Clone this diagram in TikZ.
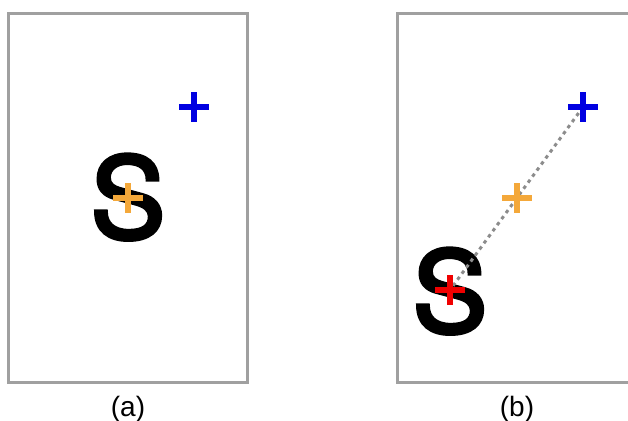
\documentclass[tikz,border=0pt]{standalone}
\usepackage{fontspec}
\setmainfont{Liberation Sans}
\newfontfamily\glyphfont[FakeBold=3.5]{TeX Gyre Heros}
\definecolor{frame}{RGB}{160,160,160}
\definecolor{tgtblue}{RGB}{0,0,225}
\definecolor{ctrorange}{RGB}{244,168,58}
\definecolor{srcred}{RGB}{240,0,0}
\begin{document}
\begin{tikzpicture}[
  x=1pt, y=1pt,
  panel/.style={draw=frame, line width=3pt},
  letter/.style={anchor=base, inner sep=0pt, font=\fontsize{112}{112}\glyphfont},
  caption/.style={anchor=base, inner sep=0pt, font=\fontsize{28}{28}\selectfont},
  plus/.pic={\draw[line width=6pt] (-15,0) -- (15,0) (0,-15) -- (0,15);},
  track/.style={draw=black!45, line width=3pt, dash pattern=on 3.5pt off 4pt}
]
\useasboundingbox (0,0) rectangle (628,420);
\clip (0,0) rectangle (628,420);

% (a)
\draw[panel] (8,38) rectangle (247,406);
\node[letter] (sA) at (128,182) {S};
\coordinate (tgtA) at (194,313);
\coordinate (ctrA) at (128,222);
\pic[tgtblue] at (tgtA) {plus};
\pic[ctrorange] at (ctrA) {plus};
\node[caption] (capA) at (128,4) {(a)};

% (b)
\draw[panel] (397,38) rectangle (637,406);
\node[letter] (sB) at (450,88) {S};
\coordinate (tgtB) at (583,313);
\coordinate (ctrB) at (517,222);
\coordinate (srcB) at (450,130);
\draw[track] (tgtB) -- (srcB);
\pic[tgtblue] at (tgtB) {plus};
\pic[ctrorange] at (ctrB) {plus};
\pic[srcred] at (srcB) {plus};
\node[caption] (capB) at (517,4) {(b)};
\end{tikzpicture}
\end{document}
